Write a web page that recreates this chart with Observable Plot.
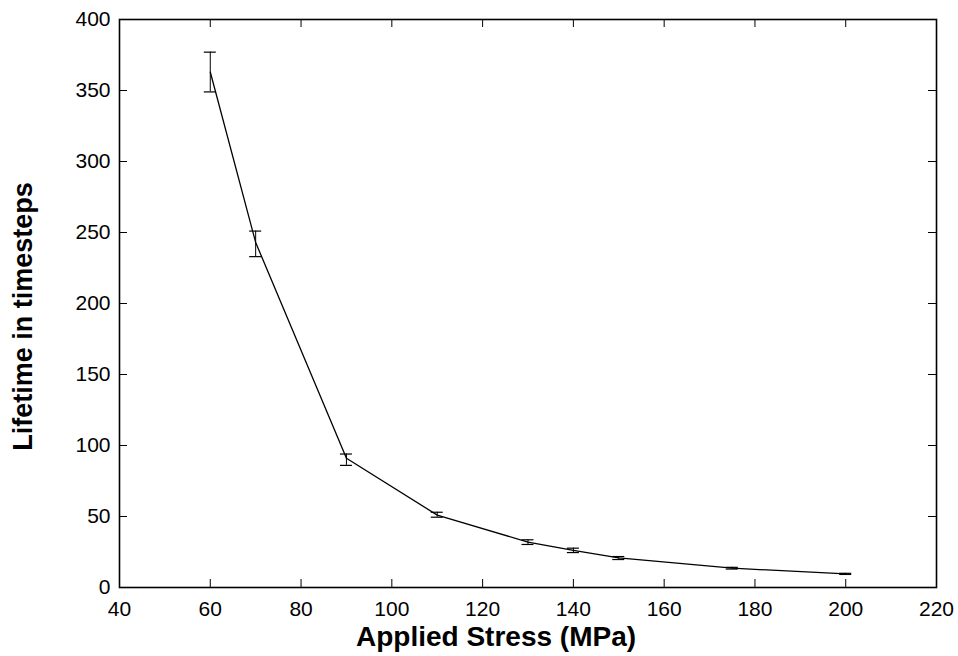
<!DOCTYPE html>
<html>
<head>
<meta charset="utf-8">
<script src="https://cdn.jsdelivr.net/npm/d3@7"></script>
<script src="https://cdn.jsdelivr.net/npm/@observablehq/plot@0.6"></script>
<style>
  html, body { margin: 0; padding: 0; background: #fff; }
  #chart { width: 958px; height: 656px; }
</style>
</head>
<body>
<div id="chart"></div>
<script>
const stress   = [60, 70, 90, 110, 130, 140, 150, 175, 200];
const lifetime = [363, 243, 91, 51, 32, 26.2, 20.8, 13.6, 9.6];
const errLow   = [349, 233, 86, 49.5, 30.3, 24.6, 19.7, 13.0, 9.2];
const errHigh  = [377, 251, 94, 53, 33.6, 27.7, 21.8, 14.2, 10.0];
const xTicks = [40, 60, 80, 100, 120, 140, 160, 180, 200, 220];
const yTicks = [0, 50, 100, 150, 200, 250, 300, 350, 400];
const xLabel = "Applied Stress (MPa)";
const yLabel = "Lifetime in timesteps";

const data = stress.map((x, i) => ({x, y: lifetime[i], lo: errLow[i], hi: errHigh[i]}));

const W = 958, H = 656;
const mL = 119, mR = 22, mT = 19, mB = 69;
const pw = W - mL - mR, ph = H - mT - mB;
const tickLen = 8;
const font = "'Liberation Sans', Arial, Helvetica, sans-serif";

const chart = Plot.plot({
  width: W,
  height: H,
  marginLeft: mL,
  marginRight: mR,
  marginTop: mT,
  marginBottom: mB,
  style: {fontFamily: font, fontSize: "21px", background: "#fff", color: "#000"},
  x: {domain: [40, 220]},
  y: {domain: [0, 400]},
  marks: [
    // inward ticks on all four sides
    Plot.ruleX(xTicks, {x: d => d, insetTop: ph - tickLen, stroke: "#000", strokeWidth: 1}),
    Plot.ruleX(xTicks, {x: d => d, insetBottom: ph - tickLen, stroke: "#000", strokeWidth: 1}),
    Plot.ruleY(yTicks, {y: d => d, insetRight: pw - tickLen, stroke: "#000", strokeWidth: 1}),
    Plot.ruleY(yTicks, {y: d => d, insetLeft: pw - tickLen, stroke: "#000", strokeWidth: 1}),
    Plot.frame({stroke: "#000", strokeWidth: 1.6}),
    Plot.axisX({ticks: xTicks, tickSize: 0, tickPadding: 14, fontSize: 21, label: null, tickFormat: d => String(d)}),
    Plot.axisY({ticks: yTicks, tickSize: 0, tickPadding: 9, fontSize: 21, label: null, tickFormat: d => String(d)}),
    // error bars
    Plot.ruleX(data, {x: "x", y1: "lo", y2: "hi", stroke: "#000", strokeWidth: 1}),
    Plot.ruleY(data, {y: "lo", x1: "x", x2: "x", insetLeft: -6, insetRight: -6, stroke: "#000", strokeWidth: 1.2}),
    Plot.ruleY(data, {y: "hi", x1: "x", x2: "x", insetLeft: -6, insetRight: -6, stroke: "#000", strokeWidth: 1.2}),
    // line
    Plot.line(data, {x: "x", y: "y", stroke: "#000", strokeWidth: 1.3}),
    // axis titles
    Plot.text([xLabel], {frameAnchor: "bottom", textAnchor: "middle", text: d => d, dx: -32, dy: 58, fontSize: 28, fontWeight: "bold", fill: "#000"}),
    Plot.text([yLabel], {frameAnchor: "left", textAnchor: "middle", text: d => d, rotate: -90, dx: -96, dy: 13, fontSize: 27, fontWeight: "bold", fill: "#000"})
  ]
});
document.getElementById("chart").appendChild(chart);
</script>
</body>
</html>
